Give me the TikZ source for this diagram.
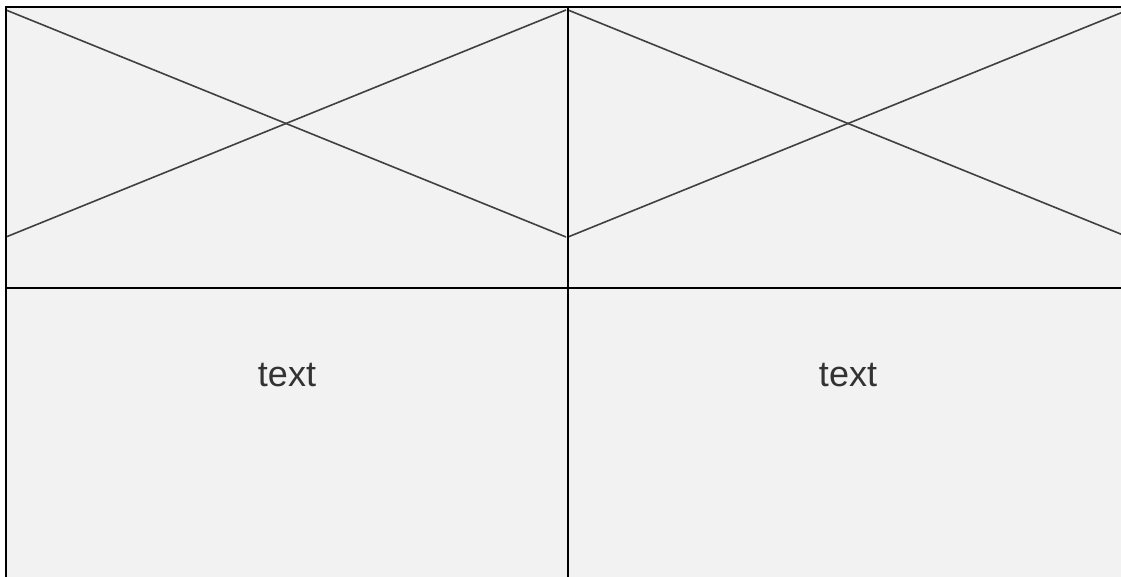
\documentclass[tikz,border=0pt]{standalone}
\usepackage{fontspec}
\setmainfont{Liberation Sans}
\definecolor{panelfill}{HTML}{F2F2F2}
\definecolor{crossline}{HTML}{404040}
\definecolor{textgray}{HTML}{333333}

\begin{document}
\begin{tikzpicture}[x=1pt,y=1pt,
  every node/.style={font=\fontsize{36}{43}\selectfont,text=textgray},
  frame/.style={line width=2.5pt,black},
  cross/.style={line width=1.6pt,crossline}]
  \useasboundingbox (0,0) rectangle (1121,577);
  \clip (0,0) rectangle (1121,577);
  \fill[panelfill] (6,0) rectangle (1130,570);
  % image placeholders
  \foreach \x in {6,568}{
    \draw[cross] (\x,567) -- (\x+560,340);
    \draw[cross] (\x,340) -- (\x+560,567);
  }
  % grid lines
  \draw[frame] (6,0) -- (6,570) -- (1130,570);
  \draw[frame] (568,0) -- (568,570);
  \draw[frame] (6,289) -- (1130,289);
  \node[anchor=base] (lefttext) at (287,190) {text};
  \node[anchor=base] (righttext) at (848,190) {text};
\end{tikzpicture}
\end{document}
